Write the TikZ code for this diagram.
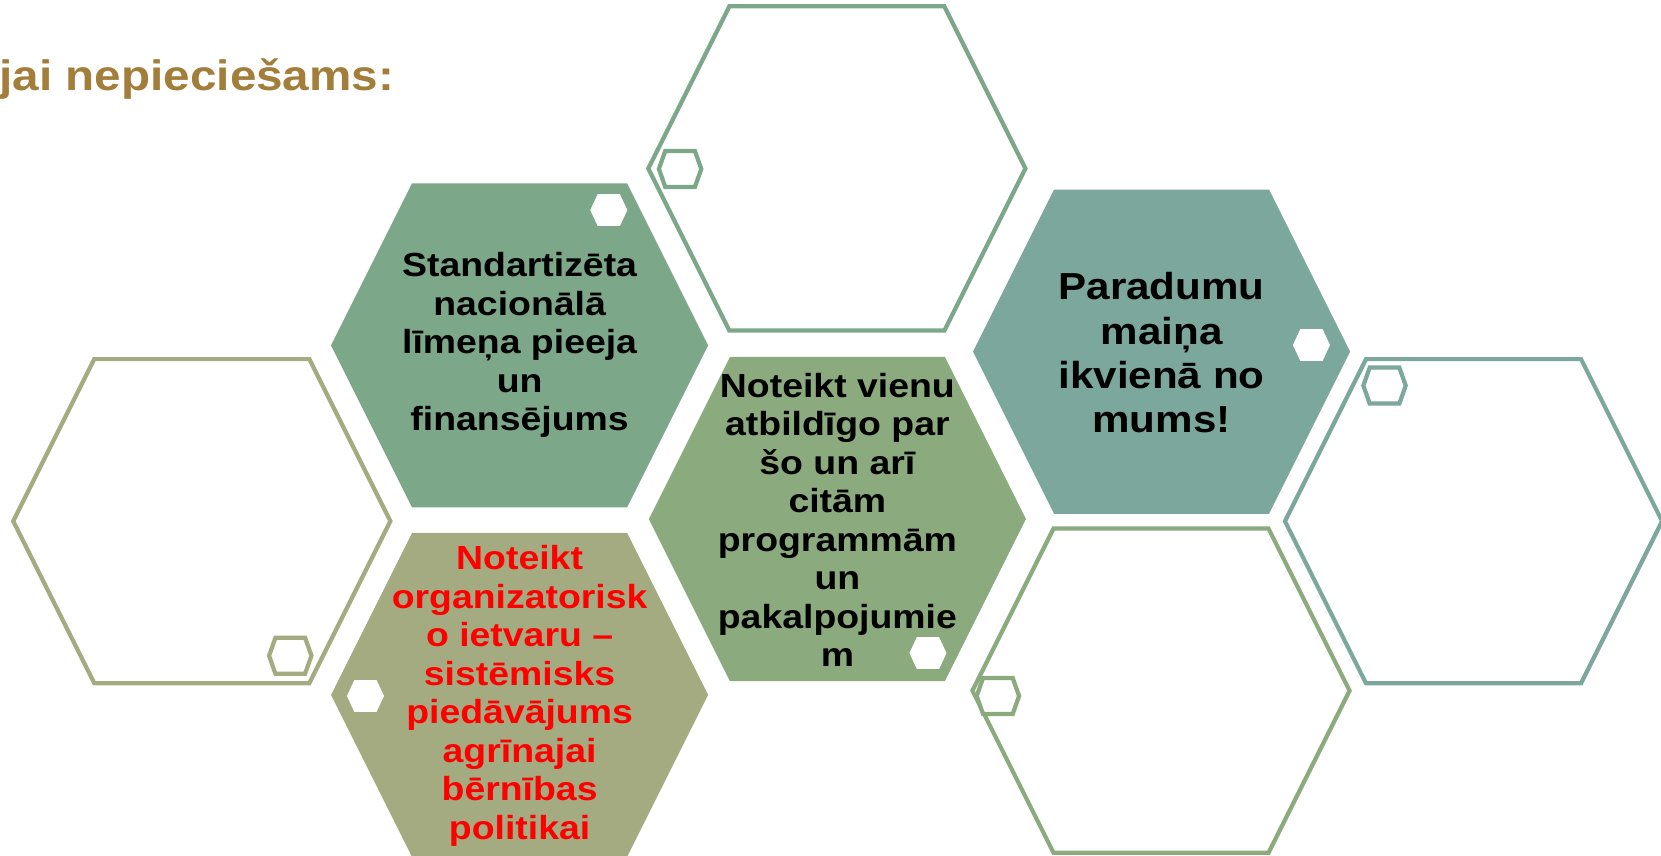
\documentclass[tikz,border=0pt]{standalone}
\usepackage{fontspec}
\setmainfont{Liberation Sans}[FakeStretch=1.12]
\usepackage{tikz}
\usepackage{xcolor}
\definecolor{hexsage}{HTML}{7CA889}
\definecolor{hexmoss}{HTML}{8BAB7E}
\definecolor{hexolive}{HTML}{A4AB81}
\definecolor{hexteal}{HTML}{7BA79C}
\definecolor{titlegold}{HTML}{A27E3A}

\begin{document}
\begin{tikzpicture}[x=0.010593cm,y=-0.010593cm,
    bighex/.pic={\path[pic actions] (-178,0) -- (-101.5,-153) -- (101.5,-153) -- (178,0) -- (101.5,153) -- (-101.5,153) -- cycle;},
    ringhex/.pic={\path[pic actions] (-20,0) -- (-14,-17) -- (14,-17) -- (20,0) -- (14,17) -- (-14,17) -- cycle;},
    dothex/.pic={\path[pic actions] (-17.5,0) -- (-10.5,-15) -- (10.5,-15) -- (17.5,0) -- (10.5,15) -- (-10.5,15) -- cycle;},
    ring/.style={draw=#1,line width=1.2pt,fill=white},
    txt/.style={align=center,inner sep=0pt,font=\bfseries\fontsize{9.5}{10.95}\selectfont}
  ]
    \useasboundingbox (0,0) rectangle (1568,808);
    % outlined hexagons
    \pic[ring=hexsage] at (790,159) {bighex};
    \pic[ring=hexolive] at (190.5,492) {bighex};
    \pic[ring=hexteal] at (1391,492) {bighex};
    \pic[ring=hexmoss] at (1096,652) {bighex};
    % filled hexagons
    \pic[fill=hexsage] at (490.5,326) {bighex};
    \pic[fill=hexolive] at (490.5,656) {bighex};
    \pic[fill=hexmoss] at (790.5,490) {bighex};
    \pic[fill=hexteal] at (1096.5,332) {bighex};
    % small hexagons
    \pic[ring=hexsage] at (642,159.5) {ringhex};
    \pic[ring=hexolive] at (274,619) {ringhex};
    \pic[ring=hexteal] at (1307,364) {ringhex};
    \pic[ring=hexmoss] at (942,657) {ringhex};
    \pic[fill=white] at (574.7,198.3) {dothex};
    \pic[fill=white] at (345,657) {dothex};
    \pic[fill=white] at (876,616.5) {dothex};
    \pic[fill=white] at (1238,325.7) {dothex};
    % texts
    \node[anchor=base west,inner sep=0pt,text=titlegold,font=\bfseries\fontsize{12.1}{14}\selectfont] (ttl) at (-1,85) {jai nepieciešams:};
    \node[txt] (std) at (490.5,326) {Standartizēta\\nacionālā\\līmeņa pieeja\\un\\finansējums};
    \node[txt,text=red] (org) at (490.5,657) {Noteikt\\organizatorisk\\o ietvaru –\\sistēmisks\\piedāvājums\\agrīnajai\\bērnības\\politikai};
    \node[txt] (atb) at (790.5,491) {Noteikt vienu\\atbildīgo par\\šo un arī\\citām\\programmām\\un\\pakalpojumie\\m};
    \node[txt,font=\bfseries\fontsize{10.7}{12.6}\selectfont] (par) at (1096.5,333) {Paradumu\\maiņa\\ikvienā no\\mums!};
  \end{tikzpicture}
\end{document}
